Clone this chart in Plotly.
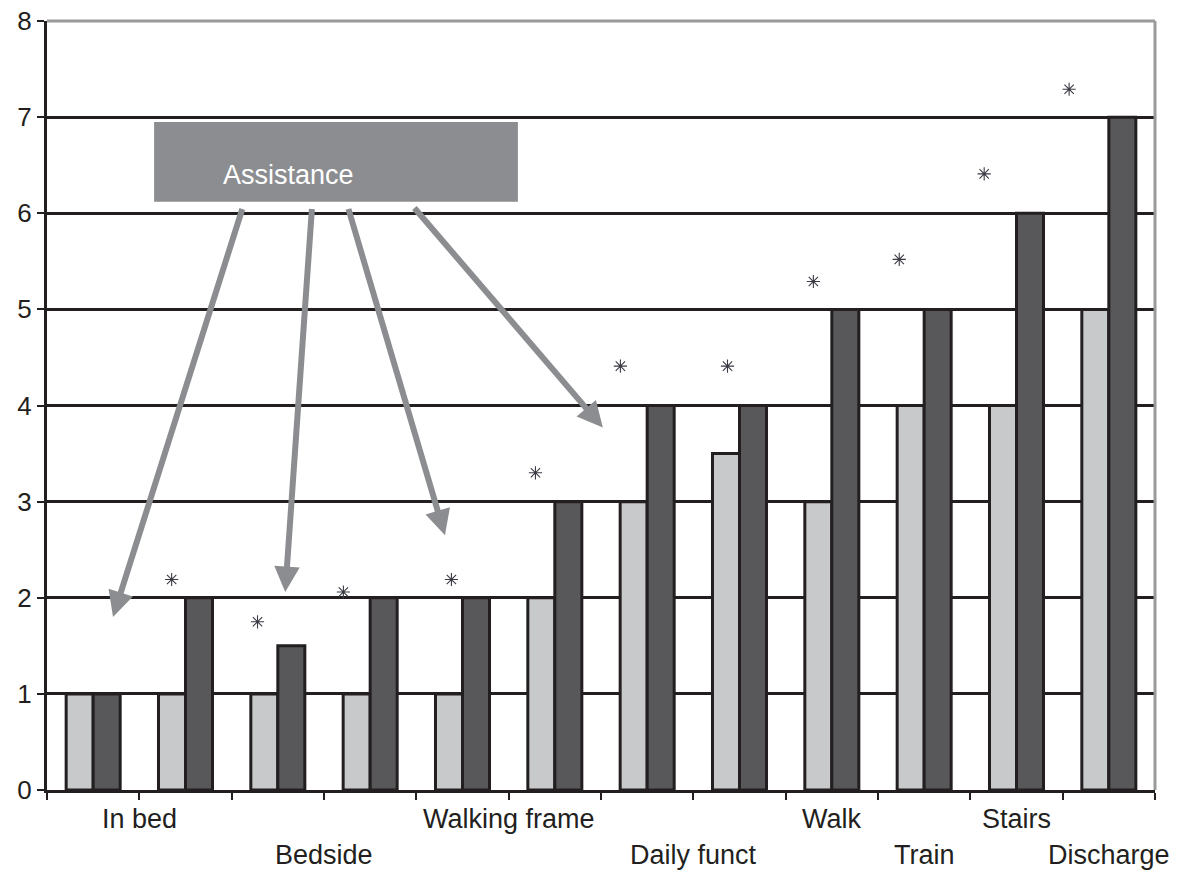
import plotly.graph_objects as go

# Group positions (0-based) and the two bar series per group
groups = list(range(12))
light_values = [1, 1, 1, 1, 1, 2, 3, 3.5, 3, 4, 4, 5]
dark_values = [1, 2, 1.5, 2, 2, 3, 4, 4, 5, 5, 6, 7]

# Significance markers (x in group units, y in score units)
star_x = [0.85, 1.78, 2.71, 3.88, 4.79, 5.71, 6.87, 7.80, 8.73, 9.65, 10.57]
star_y = [2.19, 1.75, 2.06, 2.19, 3.30, 4.41, 4.41, 5.29, 5.52, 6.41, 7.29]

# Category labels, where each is anchored, and which text row it sits on
cat_labels = ["In bed", "Bedside", "Walking frame", "Daily funct",
              "Walk", "Train", "Stairs", "Discharge"]
cat_anchor = [0.5, 2.5, 4.5, 6.5, 8, 9, 10, 11]
cat_row = [0, 1, 0, 1, 0, 1, 0, 1]

y_ticks = [0, 1, 2, 3, 4, 5, 6, 7, 8]

# "Assistance" callout box and its arrows (tail -> head, data units)
box_x = [0.66, 4.60]
box_y = [6.12, 6.95]
arrow_tail = [(1.62, 6.06), (2.37, 6.06), (2.76, 6.06), (3.465, 6.07)]
arrow_head = [(0.215, 1.80), (2.08, 2.06), (3.81, 2.65), (5.52, 3.77)]

INK = "#231f20"
GREY = "#8c8d90"
FONT = "Liberation Sans, Arial, sans-serif"

fig = go.Figure()
fig.add_trace(go.Bar(x=groups, y=light_values, marker=dict(color="#c8c9cb", line=dict(color=INK, width=3)),
                     showlegend=False, hoverinfo="skip"))
fig.add_trace(go.Bar(x=groups, y=dark_values, marker=dict(color="#58585a", line=dict(color=INK, width=3)),
                     showlegend=False, hoverinfo="skip"))
fig.add_trace(go.Scatter(x=star_x, y=star_y, mode="markers",
                         marker=dict(symbol="asterisk-open", size=11, color="#3a3a44",
                                     line=dict(width=1.1, color="#3a3a44")),
                         showlegend=False, hoverinfo="skip"))

# Plot frame: grey top and right edges
fig.add_shape(type="line", xref="paper", yref="paper", x0=0, x1=1, y0=1, y1=1,
              line=dict(color="#9a9a9c", width=3), layer="above")
fig.add_shape(type="line", xref="paper", yref="paper", x0=1, x1=1, y0=0, y1=1,
              line=dict(color="#9a9a9c", width=3), layer="above")

# Callout box
fig.add_shape(type="rect", x0=box_x[0], x1=box_x[1], y0=box_y[0], y1=box_y[1],
              fillcolor=GREY, line=dict(width=0), layer="above")
fig.add_annotation(x=box_x[0] + 0.37 * (box_x[1] - box_x[0]), y=box_y[0] + 0.33 * (box_y[1] - box_y[0]),
                   text="Assistance", showarrow=False,
                   font=dict(family=FONT, size=27, color="white"))

for (tx, ty), (hx, hy) in zip(arrow_tail, arrow_head):
    fig.add_annotation(x=hx, y=hy, ax=tx, ay=ty, xref="x", yref="y", axref="x", ayref="y",
                       text="", showarrow=True, arrowhead=2, arrowsize=0.85,
                       arrowwidth=6, arrowcolor=GREY, standoff=0)

for label, xpos, row in zip(cat_labels, cat_anchor, cat_row):
    fig.add_annotation(x=xpos, y=0, xref="x", yref="paper", yanchor="top",
                       yshift=-12 - 36 * row, text=label, showarrow=False,
                       font=dict(family=FONT, size=27, color=INK))

fig.update_layout(
    width=1177, height=872,
    margin=dict(l=47, r=22, t=21, b=82),
    paper_bgcolor="white", plot_bgcolor="white",
    barmode="group", bargap=0.415, bargroupgap=0,
    font=dict(family=FONT, size=26, color=INK),
    xaxis=dict(range=[-0.5, 11.5], tickmode="array",
               tickvals=[g - 0.5 for g in groups] + [11.5],
               showticklabels=False, ticks="outside", ticklen=7, tickwidth=2, tickcolor=INK,
               showgrid=False, zeroline=False, showline=True, linecolor=INK, linewidth=3,
               automargin=False),
    yaxis=dict(range=[0, 8], tickmode="array", tickvals=y_ticks,
               ticks="outside", ticklen=7, tickwidth=2, tickcolor=INK,
               showgrid=True, gridcolor=INK, gridwidth=2.5, zeroline=False,
               showline=True, linecolor=INK, linewidth=3, automargin=False,
               tickfont=dict(family=FONT, size=26, color=INK)),
)

fig.write_html("out.html")
